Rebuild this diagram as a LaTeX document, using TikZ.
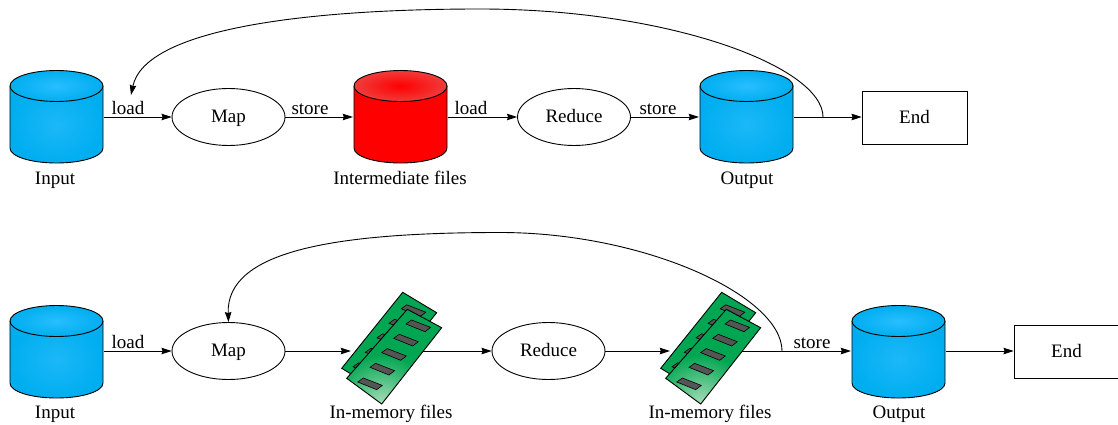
\documentclass[tikz,border=0pt]{standalone}
\usepackage{fontspec}
\setmainfont{Liberation Serif}
\usetikzlibrary{arrows.meta,shapes.geometric}
\definecolor{dbblue}{HTML}{00AEEF}
\definecolor{dblight}{HTML}{28BEFF}
\definecolor{bodylight}{HTML}{1CB8F8}
\definecolor{dbred}{HTML}{FF0000}
\definecolor{dbredo}{HTML}{F03C3C}
\definecolor{memgreen}{HTML}{00A651}
\definecolor{memlight}{HTML}{A8DDB8}
\definecolor{chipgray}{HTML}{555555}
\tikzset{
  x=1pt,y=-1pt,
  every node/.style={font=\fontsize{19}{22}\selectfont,text=black},
  proc/.style={draw,ellipse,line width=0.9pt,minimum width=113pt,minimum height=57pt,inner sep=0pt,text height=11.5pt,text depth=0pt},
  endbox/.style={draw,rectangle,line width=0.9pt,minimum width=105pt,minimum height=53pt,inner sep=0pt,text height=11.5pt,text depth=0pt},
  anchorbox/.style={inner sep=0pt,minimum width=95pt,minimum height=93pt},
  membox/.style={inner sep=0pt,minimum width=70pt,minimum height=110pt},
  conn/.style={line width=0.9pt,-{Stealth[length=10pt,width=6.5pt,inset=1pt]}},
  loopline/.style={line width=0.9pt},
  lab/.style={inner sep=0pt,anchor=base}
}
\newcommand{\dbshape}[6]{% x, y centre, body outer, body inner, top outer, top inner
  \begin{scope}[shift={(#1,#2)}]
    \shade[inner color=#4,outer color=#3,draw=none]
      (-46.5,-31) -- (-46.5,31) .. controls (-46.5,39.5) and (-25.7,46) .. (0,46) .. controls (25.7,46) and (46.5,39.5) .. (46.5,31) -- (46.5,-31) -- cycle;
    \draw[line width=0.9pt] (-46.5,-31) -- (-46.5,31) .. controls (-46.5,39.5) and (-25.7,46) .. (0,46) .. controls (25.7,46) and (46.5,39.5) .. (46.5,31) -- (46.5,-31);
    \shade[inner color=#6,outer color=#5,draw=black,line width=0.9pt] (0,-31) ellipse[x radius=46.5,y radius=15.5];
  \end{scope}}
\newcommand{\chipat}[2]{\fill[chipgray,draw=black,line width=0.6pt] (#1-6.7,#2-5.7) -- (#1+12.3,#2+1.7) -- (#1+6.7,#2+6) -- (#1-12.3,#2-1.7) -- cycle;}
\newcommand{\memshape}[1]{%
  \begin{scope}[xshift=#1]
    \fill[memgreen,draw=black,line width=0.9pt] (402.7,292.3) -- (436.7,312.7) -- (375.7,389) -- (341.7,368.3) -- cycle;
    \chipat{413.5}{310.5}\chipat{401.3}{325}\chipat{389.3}{339.5}\chipat{377.6}{354}\chipat{365.3}{368.5}
    \fill[memgreen] (407.3,309.3) -- (441.7,327.7) -- (381.7,404) -- (346.7,378.3) -- cycle;
    \begin{scope}
      \clip (407.3,309.3) -- (441.7,327.7) -- (381.7,404) -- (346.7,378.3) -- cycle;
      \shade[inner color=memlight,outer color=memgreen] (381.7,404) circle[radius=50];
    \end{scope}
    \draw[line width=0.9pt] (407.3,309.3) -- (441.7,327.7) -- (381.7,404) -- (346.7,378.3) -- cycle;
    \chipat{418.3}{325.7}\chipat{406}{340}\chipat{394}{354.3}\chipat{382.3}{369}\chipat{370}{383.7}
  \end{scope}}
\begin{document}
\begin{tikzpicture}
\useasboundingbox (0,0) rectangle (1118,425);
% top row
\node[anchorbox] (ia) at (56.5,117) {};
\node[proc] (mapa) at (228.5,117) {Map};
\node[anchorbox] (im) at (400.5,117) {};
\node[proc] (reda) at (574,117) {Reduce};
\node[anchorbox] (oa) at (746.5,117) {};
\node[endbox] (enda) at (914.5,117.5) {End};
\coordinate (ja) at (823,117);
\coordinate (ta) at (131,95);
\dbshape{56.5}{117}{dbblue}{bodylight}{dbblue}{dblight}
\dbshape{400.5}{117}{dbred}{dbred}{dbredo}{dbred}
\dbshape{746.5}{117}{dbblue}{bodylight}{dbblue}{dblight}
\draw[conn] (ia) -- (mapa);
\draw[conn] (mapa) -- (im);
\draw[conn] (im) -- (reda);
\draw[conn] (reda) -- (oa);
\draw[conn] (oa.east) -- (oa.east -| enda.west);
\draw[loopline,-{Stealth[length=10pt,width=6.5pt,inset=1pt]}] (ja) .. controls (823,67) and (670,9) .. (480,9) .. controls (310,9) and (145,28) .. (ta);
% bottom row
\node[anchorbox] (ib) at (56.5,351) {};
\node[proc] (mapb) at (228.5,351) {Map};
\node[membox] (ma) at (386,351) {};
\node[proc] (redb) at (548.5,351) {Reduce};
\node[membox] (mb) at (705,351) {};
\node[anchorbox] (ob) at (898.5,351) {};
\node[endbox] (endb) at (1066.5,351.5) {End};
\coordinate (jb) at (782,351);
\dbshape{56.5}{352}{dbblue}{bodylight}{dbblue}{dblight}
\dbshape{898.5}{352}{dbblue}{bodylight}{dbblue}{dblight}
\draw[conn] (ib) -- (mapb);
\draw[conn] (mapb) -- (ma);
\draw[conn] (ma) -- (redb);
\draw[conn] (redb) -- (mb);
\draw[conn] (mb) -- (ob);
\draw[conn] (ob.east) -- (ob.east -| endb.west);
\draw[loopline,-{Stealth[length=10pt,width=6.5pt,inset=1pt]}] (jb) .. controls (782,296) and (645,232.5) .. (500,232.5) .. controls (330,232.5) and (226,252) .. (mapb.north);
\memshape{0pt}
\memshape{319pt}
% labels
\node[lab] (la1) at (128,114) {load};
\node[lab] (la2) at (310,114) {store};
\node[lab] (la3) at (471,114) {load};
\node[lab] (la4) at (658,114) {store};
\node[lab] (la5) at (128,348) {load};
\node[lab] (la6) at (812,348) {store};
\node[lab] (c1) at (55,184) {Input};
\node[lab] (c2) at (400,184) {Intermediate files};
\node[lab] (c3) at (747,184) {Output};
\node[lab] (c4) at (55,418) {Input};
\node[lab] (c5) at (391,418) {In-memory files};
\node[lab] (c6) at (710,418) {In-memory files};
\node[lab] (c7) at (899,418) {Output};
\end{tikzpicture}
\end{document}
